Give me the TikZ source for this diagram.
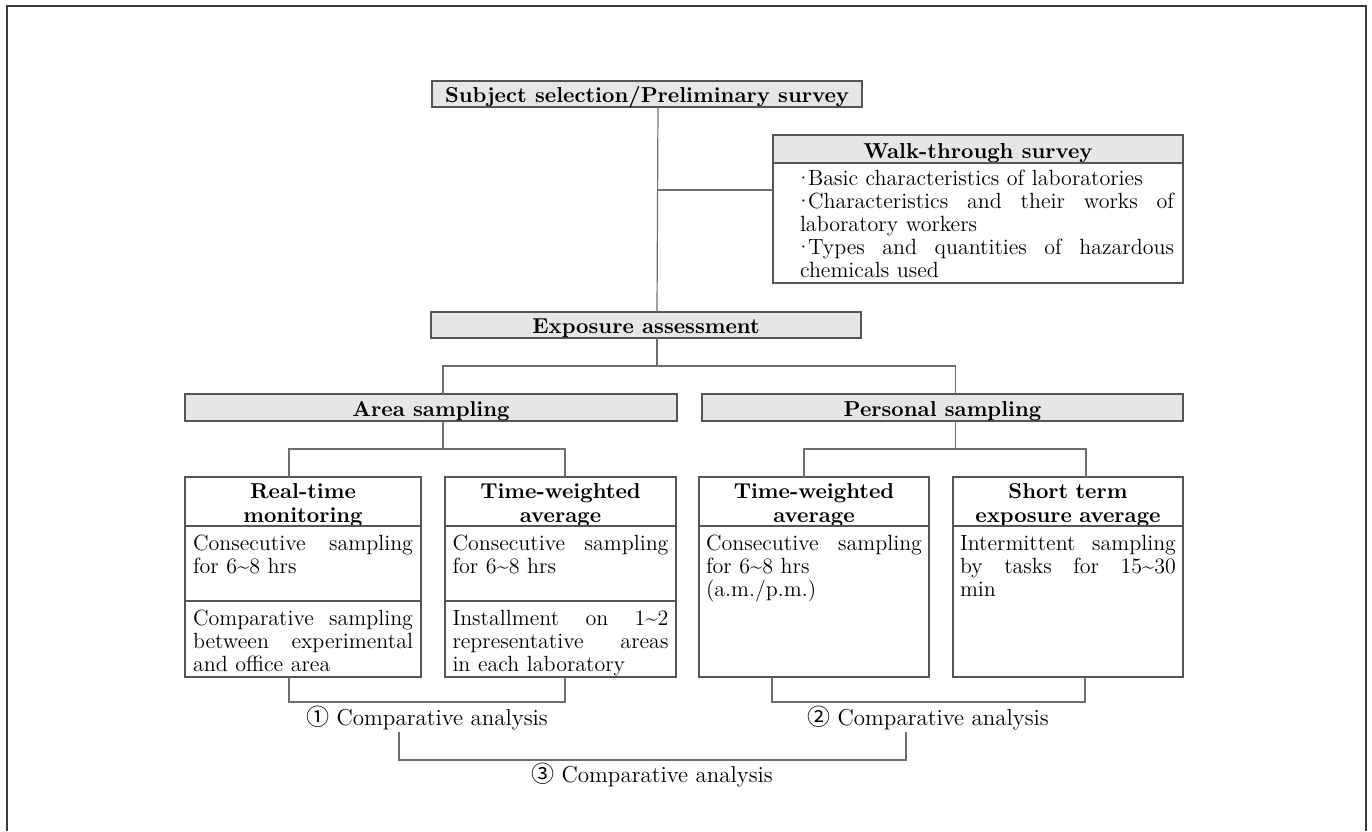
\documentclass[tikz,border=0pt]{standalone}
\usepackage{fontspec}
\newfontfamily\circfont{Noto Sans CJK SC}
\usetikzlibrary{positioning}

\definecolor{boxline}{HTML}{555555}
\definecolor{linkline}{HTML}{6E6E6E}
\definecolor{headgray}{HTML}{E6E6E6}
\definecolor{framec}{HTML}{3A3A3A}

\newcommand{\headfont}{\fontsize{10.8}{12}\selectfont\bfseries}
\newcommand{\bodyfont}{\fontsize{11}{11.5}\selectfont\spaceskip=3.8pt plus 10pt minus 1pt\relax}
\newcommand{\tld}{\textasciitilde}
\newcommand{\walkdot}{\makebox[3pt][l]{\hspace*{-2.5pt}·}\hspace{1pt}}

\begin{document}
\begin{tikzpicture}[
        x=0.5pt, y=-0.5pt,
        headbox/.style={draw=boxline, line width=0.6pt, fill=headgray, font=\headfont, inner sep=0pt, outer sep=0pt, minimum height=13pt, text height=10.5pt, text depth=2.5pt},
        colhead/.style={draw=boxline, line width=0.6pt, font=\headfont, align=center, inner sep=0pt, outer sep=0pt, text height=10.5pt, text depth=14pt},
        cell/.style={draw=boxline, line width=0.6pt, font=\bodyfont, align=justify, inner sep=0pt, outer sep=0pt, text height=12pt},
        link/.style={draw=linkline, line width=0.6pt},
        cmplabel/.style={font=\fontsize{11.5}{12}\selectfont, inner sep=1pt}
      ]
      \useasboundingbox (0,0) rectangle (1372,831);
      \draw[framec, line width=1pt] (7,831) |- (1366,6) -- (1366,831);

      % Survey
      \node[headbox, minimum width=215pt] (subj) at (647,94) {Subject selection/Preliminary survey};
      \node[headbox, minimum width=205pt, minimum height=14pt, text height=11.5pt] (walkhead) at (978,149) {Walk-through survey};
      \node[draw=boxline, line width=0.6pt, font=\bodyfont, inner sep=0pt, outer sep=0pt, below=0pt of walkhead, minimum width=205pt, text height=11pt, text depth=49pt] (walkbody) {\hspace*{9pt}\parbox[t]{187pt}{\parindent=0pt%
\walkdot Basic characteristics of laboratories\par
\walkdot Characteristics and their works of\linebreak laboratory workers\par
\walkdot Types and quantities of hazardous\linebreak chemicals used}};

      % Assessment
      \node[headbox, minimum width=215pt] (exp) at (646,325) {Exposure assessment};
      \node[headbox, minimum width=246pt, minimum height=13.5pt, text height=11pt] (area) at (431,407.5) {Area sampling};
      \node[headbox, minimum width=240.5pt, minimum height=13.5pt, text height=11pt] (pers) at (942.5,407.5) {Personal sampling};

      % Area sampling columns
      \node[colhead, minimum width=118pt, text width=112pt] (rthead) at (303,501.5) {Real-time\\monitoring};
      \node[cell, below=0pt of rthead, minimum width=118pt, text width=110pt, text depth=25.5pt] (rtmid) {Consecutive sampling\linebreak for 6\tld8 hrs};
      \node[cell, below=0pt of rtmid, minimum width=118pt, text width=110pt, text depth=26pt] (rtlow) {Comparative sampling\linebreak between experimental\linebreak and office area};

      \node[colhead, minimum width=115.5pt, text width=110pt] (twahead) at (560.5,501.5) {Time-weighted\\average};
      \node[cell, below=0pt of twahead, minimum width=115.5pt, text width=108pt, text depth=25.5pt] (twamid) {Consecutive sampling\linebreak for 6\tld8 hrs};
      \node[cell, below=0pt of twamid, minimum width=115.5pt, text width=108pt, text depth=26pt] (twalow) {Installment on 1\tld2\linebreak representative areas\linebreak in each laboratory};

      % Personal sampling columns
      \node[colhead, minimum width=115pt, text width=110pt] (ptwahead) at (814,501.5) {Time-weighted\\average};
      \node[cell, below=0pt of ptwahead, minimum width=115pt, text width=108pt, text depth=63.5pt] (ptwabody) {Consecutive sampling\linebreak for 6\tld8 hrs\\(a.m./p.m.)};

      \node[colhead, minimum width=115pt, text width=110pt] (steahead) at (1068,501.5) {Short term\\exposure average};
      \node[cell, below=0pt of steahead, minimum width=115pt, text width=108pt, text depth=63.5pt] (steabody) {Intermittent sampling\linebreak by tasks for 15\tld30\linebreak min};

      % Connections
      \coordinate (walkjoin) at (658,190);
      \coordinate (expbar) at (657,366);
      \coordinate (areabar) at (443,449);
      \coordinate (persbar) at (955.5,449);
      \draw[link] ([xshift=5.5pt]subj.south) -- ([xshift=5.5pt]exp.north);
      \draw[link] (walkjoin) -- (walkjoin -| walkbody.west);
      \draw[link] ([xshift=5.5pt]exp.south) -- (expbar);
      \draw[link] ([xshift=6pt]area.north) |- (expbar) -| ([xshift=6.5pt]pers.north);
      \draw[link] ([xshift=6pt]area.south) -- (areabar);
      \draw[link] ([xshift=-7pt]rthead.north) |- (areabar) -| ([xshift=2.25pt]twahead.north);
      \draw[link] ([xshift=6.5pt]pers.south) -- (persbar);
      \draw[link] ([xshift=-5pt]ptwahead.north) |- (persbar) -| ([xshift=9pt]steahead.north);

      % Comparative analysis
      \coordinate (cmp1bar) at (427,702);
      \coordinate (cmp2bar) at (928,702);
      \coordinate (cmp3bar) at (652,760);
      \draw[link] ([xshift=-7pt]rtlow.south) |- (cmp1bar) -| ([xshift=2.25pt]twalow.south);
      \draw[link] ([xshift=-21pt]ptwabody.south) |- (cmp2bar) -| ([xshift=8.5pt]steabody.south);
      \node[cmplabel] (cmp1) at (427,718) {{\circfont ①} Comparative analysis};
      \node[cmplabel] (cmp2) at (928,718) {{\circfont ②} Comparative analysis};
      \draw[link] ([xshift=-14pt]cmp1.south) |- (cmp3bar) -| ([xshift=-11pt]cmp2.south);
      \node[cmplabel] (cmp3) at (652,775) {{\circfont ③} Comparative analysis};

    \end{tikzpicture}
\end{document}
